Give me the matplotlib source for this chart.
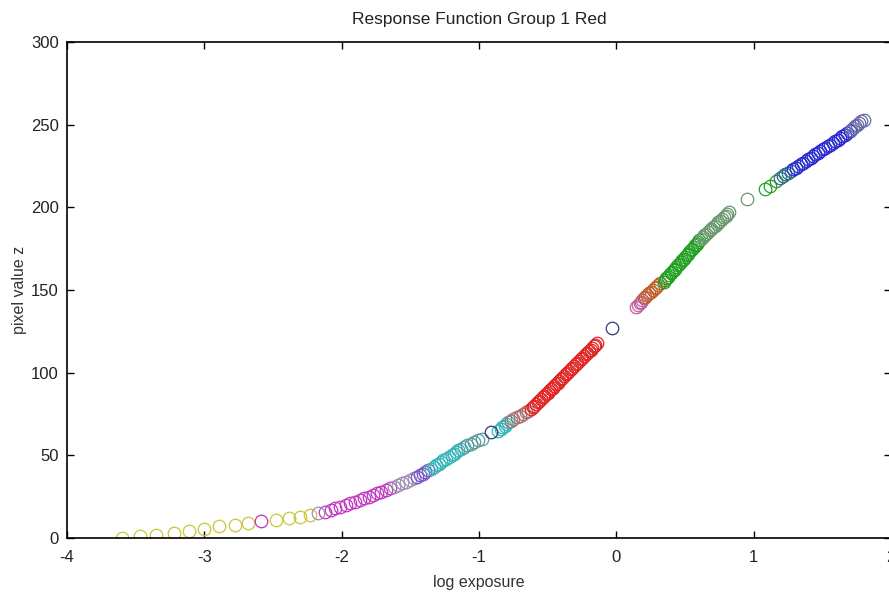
import matplotlib
matplotlib.use("Agg")
import matplotlib.pyplot as plt

# response curve samples: log exposure (x) vs pixel value z (y), grouped by colour
yellow_x = [-3.60, -3.47, -3.35, -3.22, -3.11, -3.00, -2.89, -2.78, -2.68,
            -2.48, -2.38, -2.30, -2.23]
yellow_y = [0, 1, 2, 3, 4, 5.5, 7, 8, 9, 11, 12, 13, 14]

magenta_x = [-2.59, -2.12, -2.08, -2.05, -2.01, -1.97, -1.94, -1.90, -1.87,
             -1.84, -1.80, -1.77, -1.74, -1.71, -1.68, -1.65]
magenta_y = [10, 16, 17, 18, 19, 20, 21, 22, 23, 24, 25, 26, 27, 28, 29, 30]

pale_x = [-2.17, -1.62, -1.59, -1.56, -1.53, -1.50, -1.47]
pale_y = [15, 31, 32, 33, 34, 35, 36]

violet_x = [-1.45, -1.43, -1.41, -1.39, -1.37]
violet_y = [37, 38, 39, 40, 41]

cyan_x = [-1.35, -1.33, -1.31, -1.29, -1.28, -1.26, -1.24, -1.22, -1.20,
          -1.18, -1.17, -1.15, -1.13, -0.86, -0.84, -0.83, -0.81, -0.80, -0.79]
cyan_y = [42, 43, 44, 45, 46, 47, 48, 49, 50, 51, 52, 53, 54,
          65, 66, 67, 68, 69, 70]

teal_x = [-1.11, -1.09, -1.06, -1.04, -1.01, -0.98]
teal_y = [55, 56, 57, 58, 59, 60]

navy_x = [-0.91, -0.03]
navy_y = [64, 127]

rose_x = [-0.77, -0.75, -0.72, -0.70, -0.68, -0.66, -0.64]
rose_y = [71, 72, 73, 74, 75, 76, 77]

red_x = [-0.620, -0.608, -0.596, -0.584, -0.572, -0.560, -0.548, -0.536, -0.524, -0.512,
         -0.500, -0.488, -0.476, -0.464, -0.452, -0.440, -0.428, -0.416, -0.404, -0.392,
         -0.380, -0.368, -0.356, -0.344, -0.332, -0.320, -0.308, -0.296, -0.284, -0.272,
         -0.260, -0.248, -0.236, -0.224, -0.212, -0.200, -0.188, -0.176, -0.164, -0.152,
         -0.140]
red_y = [78, 79, 80, 81, 82, 83, 84, 85, 86, 87,
         88, 89, 90, 91, 92, 93, 94, 95, 96, 97,
         98, 99, 100, 101, 102, 103, 104, 105, 106, 107,
         108, 109, 110, 111, 112, 113, 114, 115, 116, 117,
         118]

pink_x = [0.14, 0.155, 0.17, 0.18, 0.19, 0.20]
pink_y = [140, 141, 142, 143, 144, 145]

orange_x = [0.21, 0.225, 0.24, 0.25, 0.265, 0.28, 0.29, 0.305, 0.32]
orange_y = [146, 147, 148, 149, 150, 151, 152, 153, 154]

green_x = [0.345, 0.355, 0.365, 0.376, 0.386, 0.397, 0.407, 0.418, 0.428, 0.438,
           0.449, 0.459, 0.470, 0.480, 0.490, 0.501, 0.511, 0.522, 0.532, 0.542,
           0.553, 0.563, 0.574, 0.584, 0.594, 0.605,
           1.08, 1.12, 1.16]
green_y = [155, 156, 157, 158, 159, 160, 161, 162, 163, 164,
           165, 166, 167, 168, 169, 170, 171, 172, 173, 174,
           175, 176, 177, 178, 179, 180,
           211, 213, 216]

lightgreen_x = [0.615, 0.628, 0.641, 0.654, 0.666, 0.679, 0.692, 0.705, 0.718,
                0.731, 0.743, 0.756, 0.769, 0.782, 0.795, 0.808, 0.820, 0.95]
lightgreen_y = [181, 182, 183, 184, 185, 186, 187, 188, 189,
                190, 191, 192, 193, 194, 195, 196, 197, 205]

slate_x = [1.19, 1.21, 1.23, 1.25, 1.27]
slate_y = [218, 219, 220, 221, 222]

blue_x = [1.290, 1.308, 1.326, 1.343, 1.361, 1.379, 1.397, 1.415, 1.432, 1.450,
          1.468, 1.486, 1.504, 1.522, 1.539, 1.557, 1.575, 1.593, 1.611, 1.628,
          1.646, 1.664, 1.682, 1.700]
blue_y = [223, 224, 225, 226, 227, 228, 229, 230, 231, 232,
          233, 234, 235, 236, 237, 238, 239, 240, 241, 242,
          243, 244, 245, 246]

lavender_x = [1.71, 1.725, 1.74, 1.755, 1.77, 1.785, 1.80]
lavender_y = [247, 248, 249, 250, 251, 252, 253]

groups = [
    (yellow_x, yellow_y, "#c8c83a"),
    (magenta_x, magenta_y, "#c035c0"),
    (pale_x, pale_y, "#9a90b4"),
    (violet_x, violet_y, "#7a55c8"),
    (cyan_x, cyan_y, "#35b5b8"),
    (teal_x, teal_y, "#5a9c9c"),
    (navy_x, navy_y, "#303a78"),
    (rose_x, rose_y, "#a87070"),
    (red_x, red_y, "#e02525"),
    (pink_x, pink_y, "#c0609c"),
    (orange_x, orange_y, "#c0602a"),
    (green_x, green_y, "#22a022"),
    (lightgreen_x, lightgreen_y, "#6a9a70"),
    (slate_x, slate_y, "#306a88"),
    (blue_x, blue_y, "#2a2ad0"),
    (lavender_x, lavender_y, "#6a6aa8"),
]

plt.rcParams["font.family"] = ["Liberation Sans", "DejaVu Sans"]
plt.rcParams["axes.unicode_minus"] = False

fig = plt.figure(figsize=(8.89, 5.99), dpi=100)
ax = fig.add_axes([67 / 889, 61 / 599, 824 / 889, 496 / 599])

for gx, gy, col in groups:
    ax.plot(gx, gy, "o", mfc="none", mec=col, mew=0.9, ms=9, ls="none")

ax.set_xlim(-4, 2)
ax.set_ylim(0, 300)
ax.set_xticks([-4, -3, -2, -1, 0, 1, 2])
ax.set_yticks([0, 50, 100, 150, 200, 250, 300])
ax.tick_params(direction="in", top=True, right=True, length=5, width=1,
               labelsize=12, labelcolor="#222222")
ax.tick_params(axis="x", pad=9)
ax.tick_params(axis="y", pad=6)
for s in ax.spines.values():
    s.set_linewidth(1.2)

ax.set_title("Response Function Group 1 Red", fontsize=12.5, color="#222222", pad=13)
ax.set_xlabel("log exposure", fontsize=11.5, color="#333333", labelpad=7)
ax.set_ylabel("pixel value z", fontsize=11.5, color="#333333", labelpad=3)

fig.savefig("out.png", dpi=100)
